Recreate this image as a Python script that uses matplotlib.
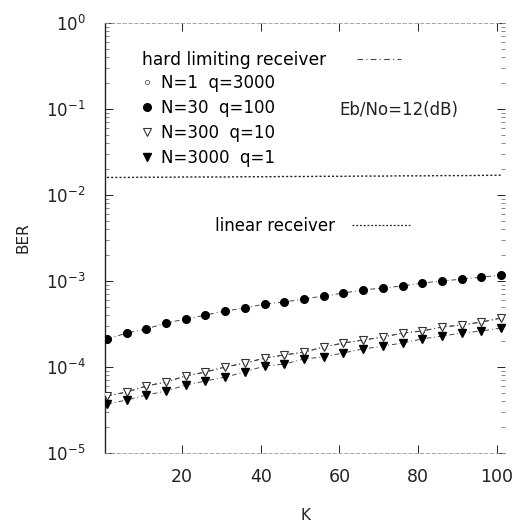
import matplotlib
matplotlib.use("Agg")
import matplotlib.pyplot as plt
from matplotlib.lines import Line2D
from matplotlib.ticker import LogLocator, NullFormatter

plt.rcParams['font.family'] = ['DejaVu Sans']

# ---- data ----
K = [1, 6, 11, 16, 21, 26, 31, 36, 41, 46, 51, 56, 61, 66, 71, 76, 81, 86, 91, 96, 101]

ber_n30_q100 = [2.12e-4, 2.48e-4, 2.77e-4, 3.25e-4, 3.61e-4, 4.02e-4, 4.48e-4, 4.85e-4,
                5.40e-4, 5.70e-4, 6.18e-4, 6.70e-4, 7.25e-4, 7.86e-4, 8.30e-4, 8.75e-4,
                9.48e-4, 1.00e-3, 1.05e-3, 1.11e-3, 1.17e-3]

ber_n300_q10 = [4.60e-5, 5.12e-5, 6.01e-5, 6.70e-5, 7.86e-5, 8.75e-5, 1.00e-4, 1.11e-4,
                1.27e-4, 1.38e-4, 1.49e-4, 1.71e-4, 1.90e-4, 2.06e-4, 2.23e-4, 2.48e-4,
                2.62e-4, 2.92e-4, 3.08e-4, 3.33e-4, 3.71e-4]

ber_n1_q3000 = [4.60e-5, 5.12e-5, 6.01e-5, 6.70e-5, 7.86e-5, 8.75e-5, 1.00e-4, 1.11e-4,
                1.27e-4, 1.38e-4, 1.49e-4, 1.71e-4, 1.90e-4, 2.06e-4, 2.23e-4, 2.48e-4,
                2.62e-4, 2.92e-4, 3.08e-4, 3.33e-4, 3.71e-4]

ber_n3000_q1 = [3.71e-5, 4.13e-5, 4.72e-5, 5.26e-5, 6.18e-5, 6.87e-5, 7.65e-5, 8.75e-5,
                1.03e-4, 1.08e-4, 1.24e-4, 1.31e-4, 1.46e-4, 1.62e-4, 1.75e-4, 1.90e-4,
                2.12e-4, 2.29e-4, 2.48e-4, 2.62e-4, 2.84e-4]

ber_linear = [1.60e-2, 1.60e-2, 1.61e-2, 1.61e-2, 1.62e-2, 1.62e-2, 1.62e-2, 1.63e-2,
              1.63e-2, 1.64e-2, 1.64e-2, 1.65e-2, 1.65e-2, 1.66e-2, 1.66e-2, 1.67e-2,
              1.67e-2, 1.68e-2, 1.68e-2, 1.69e-2, 1.70e-2]

series_labels = ["N=1  q=3000", "N=30  q=100", "N=300  q=10", "N=3000  q=1"]
x_ticks = [20, 40, 60, 80, 100]

# ---- figure ----
fig = plt.figure(figsize=(5.30, 5.31), dpi=100)
ax = fig.add_axes([105/530, 1-453/531, 400/530, 430/531])

hl_style = (0, (5, 3, 1, 3))
lc = '#444444'

ax.plot(K, ber_linear, ls=(0, (1.5, 1.5)), color='#222222', lw=1.0)
ax.plot(K, ber_n1_q3000, ls=hl_style, color=lc, lw=0.7, marker='o', ms=3,
        mfc='white', mec='#555555', mew=0.6, zorder=2)
ax.plot(K, ber_n300_q10, ls=hl_style, color=lc, lw=0.7, marker='v', ms=5.5,
        mfc='white', mec='#333333', mew=0.8, zorder=3)
ax.plot(K, ber_n3000_q1, ls=hl_style, color=lc, lw=0.7, marker='v', ms=5.5,
        mfc='black', mec='black', zorder=3)
ax.plot(K, ber_n30_q100, ls=hl_style, color=lc, lw=0.7, marker='o', ms=5.5,
        mfc='black', mec='black', zorder=3)

ax.set_yscale('log')
ax.set_ylim(1e-5, 1)
ax.set_xlim(0.5, 102)
ax.set_xticks(x_ticks)
ax.set_xticklabels([str(v) for v in x_ticks])
ax.yaxis.set_major_locator(LogLocator(base=10, numticks=10))
ax.yaxis.set_minor_locator(LogLocator(base=10, subs=range(2, 10), numticks=10))
ax.yaxis.set_minor_formatter(NullFormatter())

ax.tick_params(axis='both', which='both', direction='in', top=True, right=True)
ax.tick_params(axis='x', which='major', length=6, width=0.7, labelsize=12.5, pad=11, colors='#222222')
ax.tick_params(axis='y', which='major', length=6, width=0.7, labelsize=12, pad=14, colors='#222222')
ax.tick_params(axis='y', which='minor', length=3, width=0.5, colors='#555555')

for side in ['top', 'bottom', 'right']:
    ax.spines[side].set_color('#999999')
    ax.spines[side].set_linewidth(0.6)
ax.spines['top'].set_linestyle((0, (4, 3)))
ax.spines['bottom'].set_linestyle((0, (4, 3)))
ax.spines['right'].set_visible(False)
ax.spines['left'].set_color('#222222')
ax.spines['left'].set_linewidth(1.0)

ax.set_xlabel('K', fontsize=11, color='#222222', labelpad=16)
ax.set_ylabel('BER', fontsize=11, color='#222222', labelpad=11)

# ---- legends ----
leg1 = ax.legend(handles=[Line2D([], [], ls=hl_style, color=lc, lw=0.8)],
                 labels=['hard limiting receiver'], markerfirst=False,
                 loc='upper left', bbox_to_anchor=(0.07, 0.955), frameon=False,
                 handlelength=2.6, handletextpad=1.8, fontsize=12.3, borderpad=0)
ax.add_artist(leg1)

h = [Line2D([], [], ls='none', marker='o', ms=3, mfc='white', mec='#555555', mew=0.6),
     Line2D([], [], ls='none', marker='o', ms=5.5, mfc='black', mec='black'),
     Line2D([], [], ls='none', marker='v', ms=5.5, mfc='white', mec='#333333', mew=0.8),
     Line2D([], [], ls='none', marker='v', ms=5.5, mfc='black', mec='black')]
leg2 = ax.legend(handles=h, labels=series_labels, loc='upper left',
                 bbox_to_anchor=(0.068, 0.90), frameon=False, handlelength=0.8,
                 handletextpad=0.45, fontsize=12, labelspacing=0.42, borderpad=0)
ax.add_artist(leg2)

leg3 = ax.legend(handles=[Line2D([], [], ls=(0, (1.5, 1.5)), color='#222222', lw=0.9)],
                 labels=['linear receiver'], markerfirst=False, loc='upper left',
                 bbox_to_anchor=(0.255, 0.568), frameon=False, handlelength=3.5,
                 handletextpad=1.0, fontsize=12, borderpad=0)

ax.text(0.585, 0.798, 'Eb/No=12(dB)', transform=ax.transAxes, fontsize=12,
        color='#222222', va='center', ha='left')

fig.savefig('out.png', dpi=100)
